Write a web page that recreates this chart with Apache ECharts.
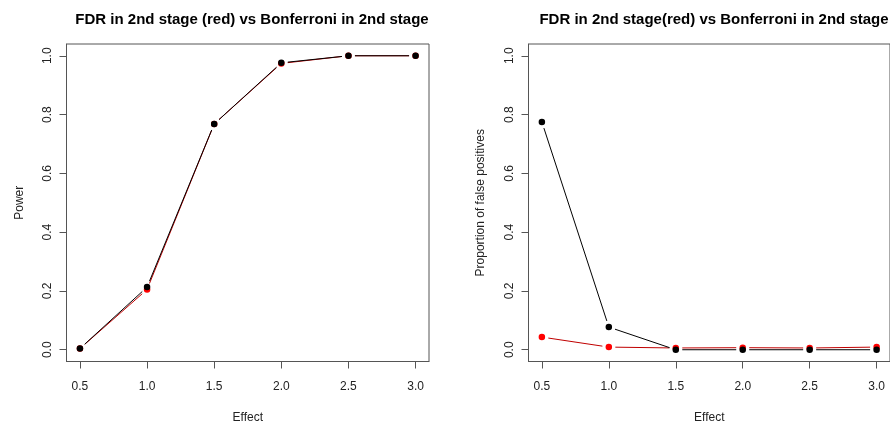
<!DOCTYPE html>
<html><head><meta charset="utf-8">
<script src="https://cdn.jsdelivr.net/npm/echarts@6/dist/echarts.min.js"></script>
<style>html,body{margin:0;padding:0;background:#fff}#c{width:890px;height:429px}</style>
</head><body><div id="c"></div>
<script>
const effect = [0.5, 1.0, 1.5, 2.0, 2.5, 3.0];
const xTicks = [0.5, 1.0, 1.5, 2.0, 2.5, 3.0];
const yTicks = [0.0, 0.2, 0.4, 0.6, 0.8, 1.0];
const powerBonferroni = [0.004, 0.213, 0.768, 0.976, 1.0, 1.0];
const powerFDR = [0.004, 0.205, 0.768, 0.974, 1.0, 1.0];
const fpBonferroni = [0.775, 0.077, 0.0, 0.0, 0.0, 0.0];
const fpFDR = [0.043, 0.009, 0.006, 0.007, 0.006, 0.009];
const titleLeft = 'FDR in 2nd stage (red) vs Bonferroni in 2nd stage';
const titleRight = 'FDR in 2nd stage(red) vs Bonferroni in 2nd stage';

const FONT = 'Liberation Sans, Arial, sans-serif';
const AXC = '#555';
const TXT = '#222';

function pts(xs, ys){ return xs.map((x,i)=>[x, ys[i]]); }
function segs(xs, ys){
  const out = [];
  for (let i=0;i<xs.length-1;i++) out.push([xs[i], ys[i], xs[i+1], ys[i+1]]);
  return out;
}
const GAP = 6.5;
function gapLine(color){
  return function(params, api){
    const a = api.coord([api.value(0), api.value(1)]);
    const b = api.coord([api.value(2), api.value(3)]);
    const dx = b[0]-a[0], dy = b[1]-a[1];
    const L = Math.sqrt(dx*dx+dy*dy);
    if (L <= 2*GAP) return null;
    const ux = dx/L, uy = dy/L;
    return {type:'line', shape:{x1:a[0]+ux*GAP, y1:a[1]+uy*GAP, x2:b[0]-ux*GAP, y2:b[1]-uy*GAP},
      style:{stroke: color, lineWidth: 1}};
  };
}
function xAxis(gi){
  return {type:'value', gridIndex: gi, min:0.4, max:3.1, name:'Effect', nameLocation:'middle', nameGap:50,
    nameTextStyle:{fontFamily:FONT, fontSize:12, color:TXT},
    axisLine:{show:true, onZero:false, lineStyle:{color:AXC}}, splitLine:{show:false},
    axisTick:{show:true, inside:false, length:7, customValues:xTicks, lineStyle:{color:AXC}},
    axisLabel:{customValues:xTicks, margin:19, fontFamily:FONT, fontSize:12, color:TXT, formatter:v=>v.toFixed(1)}};
}
function yAxis(gi, name, gap){
  return {type:'value', gridIndex: gi, min:-0.04, max:1.04, name:name, nameLocation:'middle', nameGap:gap, nameRotate:90,
    nameTextStyle:{fontFamily:FONT, fontSize:12, color:TXT},
    axisLine:{show:true, onZero:false, lineStyle:{color:AXC}}, splitLine:{show:false},
    axisTick:{show:true, inside:false, length:7, customValues:yTicks, lineStyle:{color:AXC}},
    axisLabel:{customValues:yTicks, rotate:90, margin:13, fontFamily:FONT, fontSize:12, color:TXT, formatter:v=>v.toFixed(1)}};
}
function lineSeries(gi, xs, ys, color, z){
  return {type:'custom', xAxisIndex:gi, yAxisIndex:gi, data:segs(xs, ys), renderItem:gapLine(color),
    encode:{x:[0,2], y:[1,3]}, silent:true, z:z};
}
function pointSeries(gi, xs, ys, color, z){
  return {type:'scatter', xAxisIndex:gi, yAxisIndex:gi, data:pts(xs, ys), symbol:'circle', symbolSize:6.5,
    itemStyle:{color:color, opacity:1, borderWidth:0}, silent:true, z:z};
}
const chart = echarts.init(document.getElementById('c'), null, {renderer:'canvas'});
chart.setOption({
  animation:false,
  backgroundColor:'#fff',
  title:[
    {text:titleLeft, left:247, top:7, textAlign:'center', textStyle:{fontFamily:FONT, fontSize:15, fontWeight:'bold', color:'#000'}},
    {text:titleRight, left:709, top:7, textAlign:'center', textStyle:{fontFamily:FONT, fontSize:15, fontWeight:'bold', color:'#000'}}
  ],
  grid:[
    {left:66.5, top:44, width:362.5, height:317.5, show:true, borderColor:AXC, borderWidth:1, backgroundColor:'transparent'},
    {left:528.5, top:44, width:362.5, height:317.5, show:true, borderColor:AXC, borderWidth:1, backgroundColor:'transparent'}
  ],
  xAxis:[xAxis(0), xAxis(1)],
  yAxis:[yAxis(0,'Power',41), yAxis(1,'Proportion of false positives',42)],
  series:[
    lineSeries(0, effect, powerFDR, '#c00000', 2),
    pointSeries(0, effect, powerFDR, '#ff0000', 3),
    lineSeries(0, effect, powerBonferroni, '#000000', 4),
    pointSeries(0, effect, powerBonferroni, '#000000', 5),
    lineSeries(1, effect, fpFDR, '#c00000', 2),
    pointSeries(1, effect, fpFDR, '#ff0000', 3),
    lineSeries(1, effect, fpBonferroni, '#000000', 4),
    pointSeries(1, effect, fpBonferroni, '#000000', 5)
  ]
});
</script></body></html>
